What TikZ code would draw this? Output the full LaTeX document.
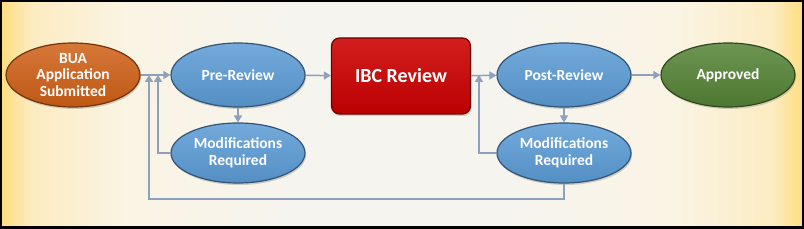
\documentclass[tikz,border=0pt]{standalone}
\usepackage{fontspec}
\setmainfont{Carlito}
\usetikzlibrary{shapes.geometric,arrows.meta,shadows}

\definecolor{edgeyellow}{HTML}{FFDC7C}
\definecolor{softyellow}{HTML}{FCECC2}
\definecolor{creamwash}{HTML}{FAF4E4}
\definecolor{midwash}{HTML}{F6F4EE}
\definecolor{flowgrey}{HTML}{8DA1BD}
\definecolor{stageblue}{HTML}{5B9BD5}
\definecolor{buaorange}{HTML}{CF5F16}
\definecolor{okgreen}{HTML}{548235}
\definecolor{ibcred}{HTML}{CC0000}

\pgfdeclarehorizontalshading{backwash}{100bp}{color(0bp)=(edgeyellow); color(25bp)=(edgeyellow); color(27bp)=(softyellow); color(33bp)=(creamwash); color(43bp)=(midwash); color(57bp)=(midwash); color(67bp)=(creamwash); color(73bp)=(softyellow); color(75bp)=(edgeyellow); color(100bp)=(edgeyellow)}

\begin{document}
\begin{tikzpicture}[x=1pt,y=1pt,
        stage/.style={ellipse,minimum width=134pt,minimum height=64pt,inner sep=0pt,align=center,
            draw=#1!55!black,line width=1.2pt,top color=#1!85!white,middle color=#1,bottom color=#1!92!black,
            text=white,font=\bfseries\fontsize{15.5}{16.5}\selectfont,
            drop shadow={opacity=0.35,shadow xshift=1pt,shadow yshift=-2pt}},
        flow/.style={draw=flowgrey,line width=1.5pt,-{Triangle[length=7pt,width=8pt]}}]
        % frame and background wash
        \useasboundingbox (0,0) rectangle (804,228);
        \shade[shading=backwash] (0,0) rectangle (804,228);
        \draw[line width=4pt] (0,0) rectangle (804,228);
        % stages
        \node[stage=buaorange] (bua) at (73,153) {BUA\\Application\\Submitted};
        \node[stage=stageblue] (pre) at (238,153) {Pre-Review};
        \node[stage=stageblue,minimum height=60pt] (modl) at (238,75) {Modifications\\Required};
        \node[rectangle,rounded corners=8pt,minimum width=139pt,minimum height=76pt,
            draw=ibcred!55!black,line width=1.2pt,top color=ibcred!88!white,middle color=ibcred,bottom color=ibcred!92!black,
            text=white,font=\bfseries\fontsize{20}{24}\selectfont,
            drop shadow={opacity=0.35,shadow xshift=1pt,shadow yshift=-2pt}] (ibc) at (401,152) {IBC Review};
        \node[stage=stageblue] (post) at (564,153) {Post-Review};
        \node[stage=stageblue,minimum height=60pt] (modr) at (564,75) {Modifications\\Required};
        \node[stage=okgreen] (appr) at (728,153) {Approved};
        % return points
        \coordinate (backl) at (158,153);
        \coordinate (backr) at (479,153);
        \coordinate (low) at (149,29);
        % connectors
        \draw[flow] (bua) -- (pre);
        \draw[flow] (pre) -- (modl);
        \draw[flow] (modl.west) -| (backl);
        \draw[flow] (pre) -- (ibc);
        \draw[flow] (ibc) -- (post);
        \draw[flow] (post) -- (modr);
        \draw[flow] (modr.west) -| (backr);
        \draw[flow] (modr.south) |- (low) -- (low |- bua.east);
        \draw[flow] (post) -- (appr);
\end{tikzpicture}
\end{document}
